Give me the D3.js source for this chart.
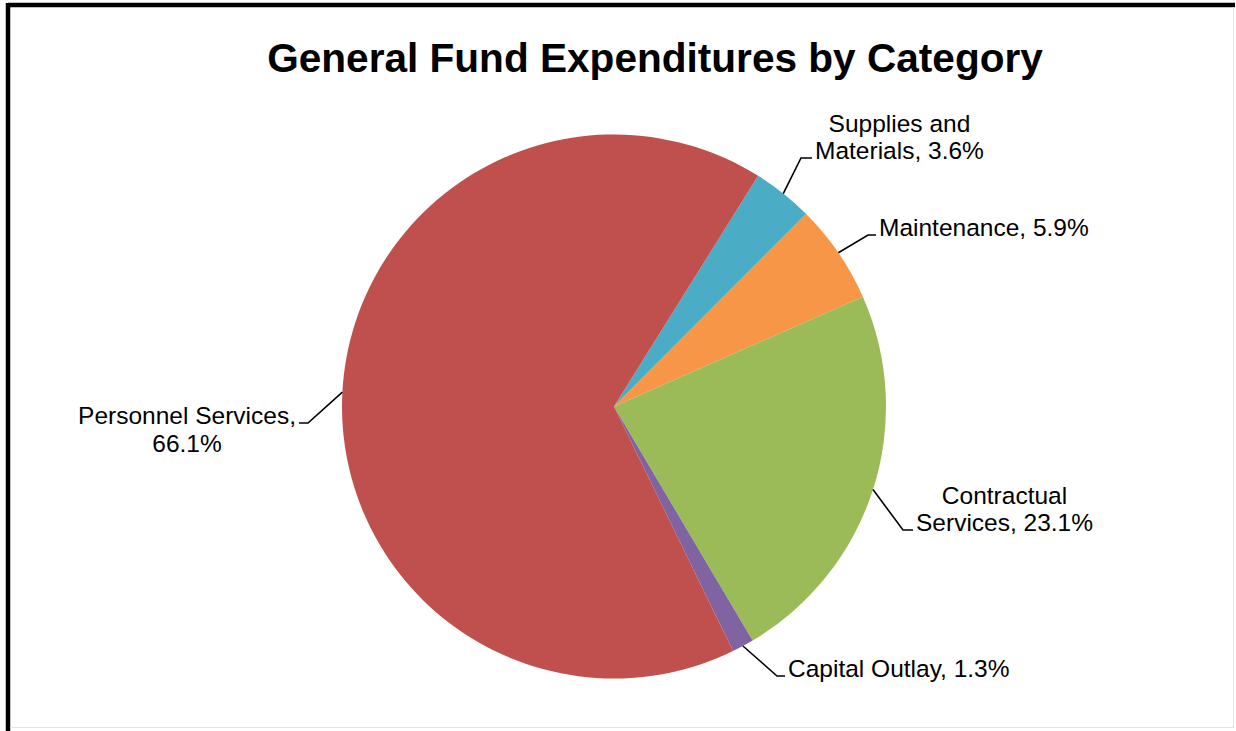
<!DOCTYPE html>
<html>
<head>
<meta charset="utf-8">
<script src="https://cdn.jsdelivr.net/npm/d3@7"></script>
<style>
  html, body { margin: 0; padding: 0; background: #fff; }
  svg { display: block; }
  text { font-family: "Liberation Sans", Arial, sans-serif; fill: #000; }
</style>
</head>
<body>
<svg id="chart" width="1236" height="731"></svg>
<script>
// Expenditure shares (percent), in drawing order clockwise
const categories = ["Supplies and Materials", "Maintenance", "Contractual Services", "Capital Outlay", "Personnel Services"];
const shares = [3.6, 5.9, 23.1, 1.3, 66.1];
const labelLines = [
  ["Supplies and", "Materials, 3.6%"],
  ["Maintenance, 5.9%"],
  ["Contractual", "Services, 23.1%"],
  ["Capital Outlay, 1.3%"],
  ["Personnel Services,", "66.1%"]
];
const colors = ["#4BACC6", "#F79646", "#9BBB59", "#8064A2", "#C0504D"];

// Label placement: leader elbow, leader end, side, and which text line the leader meets
const labelLayout = [
  { elbow: [801, 158], end: [812, 158], side: "right", attach: 1 },
  { elbow: [868, 235], end: [876, 235], side: "right", attach: 0 },
  { elbow: [903, 530], end: [913, 530], side: "right", attach: 1 },
  { elbow: [777, 676], end: [785, 676], side: "right", attach: 0 },
  { elbow: [308, 423], end: [299, 423], side: "left", attach: 0 }
];

const svg = d3.select("#chart");
const cx = 614, cy = 406.5, R = 272;

// Frame
svg.append("line").attr("x1", 8).attr("y1", 5).attr("x2", 1235).attr("y2", 5)
  .attr("stroke", "#000").attr("stroke-width", 4.5);
svg.append("line").attr("x1", 8).attr("y1", 3).attr("x2", 8).attr("y2", 731)
  .attr("stroke", "#000").attr("stroke-width", 4.5);
svg.append("line").attr("x1", 1233.5).attr("y1", 7).attr("x2", 1233.5).attr("y2", 727)
  .attr("stroke", "#e4e4e4").attr("stroke-width", 1);
svg.append("line").attr("x1", 10).attr("y1", 727.5).attr("x2", 1234).attr("y2", 727.5)
  .attr("stroke", "#e4e4e4").attr("stroke-width", 1);

// Title
svg.append("text")
  .attr("x", 655).attr("y", 72)
  .attr("text-anchor", "middle")
  .style("font-size", "40.6px").style("font-weight", "bold")
  .text("General Fund Expenditures by Category");

const startDeg = 32;
const pie = d3.pie().sort(null).value(d => d)
  .startAngle(startDeg * Math.PI / 180)
  .endAngle((startDeg + 360) * Math.PI / 180);
const arcs = pie(shares);
const arc = d3.arc().innerRadius(0).outerRadius(R);

const g = svg.append("g").attr("transform", `translate(${cx},${cy})`);
g.selectAll("path.slice").data(arcs).enter().append("path")
  .attr("class", "slice")
  .attr("d", arc)
  .attr("fill", (d, i) => colors[i]);

// Labels with leader lines
const fs = 24.5, lineH = 27.5;
arcs.forEach((d, i) => {
  const mid = (d.startAngle + d.endAngle) / 2;
  const sx = cx + R * Math.sin(mid), sy = cy - R * Math.cos(mid);
  const L = labelLayout[i];
  svg.append("polyline")
    .attr("points", [[sx, sy], L.elbow, L.end].map(p => p.join(",")).join(" "))
    .attr("fill", "none").attr("stroke", "#000").attr("stroke-width", 1.6);

  const lines = labelLines[i];
  // width of the widest line sets the block's centre
  let w = 0;
  lines.forEach(ln => {
    const probe = svg.append("text").style("font-size", fs + "px").text(ln);
    w = Math.max(w, probe.node().getComputedTextLength());
    probe.remove();
  });
  const gap = 3;
  const centerX = L.side === "right" ? L.end[0] + gap + w / 2 : L.end[0] - gap - w / 2;
  const baseAttach = L.end[1] + 1;
  const t = svg.append("text").style("font-size", fs + "px").attr("text-anchor", "middle");
  lines.forEach((ln, k) => {
    t.append("tspan")
      .attr("x", centerX)
      .attr("y", baseAttach + (k - L.attach) * lineH)
      .text(ln);
  });
});
</script>
</body>
</html>
